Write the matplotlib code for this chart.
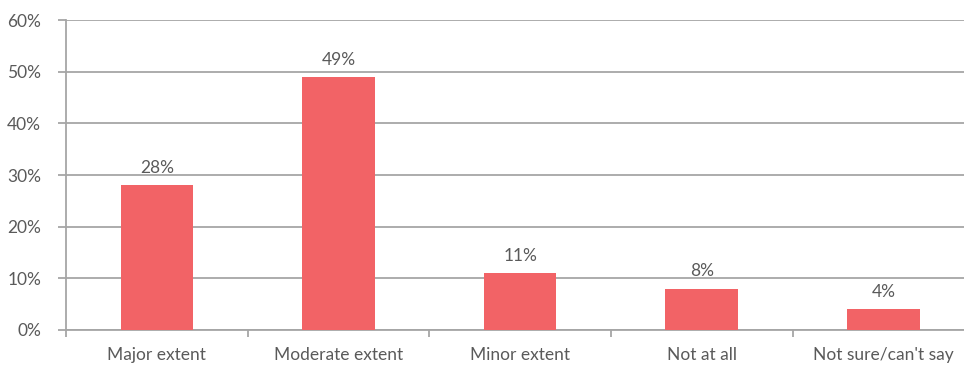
import matplotlib.pyplot as plt
import numpy as np

categories = ["Major extent", "Moderate extent", "Minor extent", "Not at all", "Not sure/can't say"]
values = [28, 49, 11, 8, 4]
yticks = [0, 10, 20, 30, 40, 50, 60]

bar_color = "#F26366"
grid_color = "#A6A6A6"
text_color = "#5A5A5A"

plt.rcParams['font.family'] = ['Lato', 'DejaVu Sans']

fig = plt.figure(figsize=(9.64, 3.65), dpi=100)
ax = fig.add_axes([0.0685, 0.096, 0.942, 0.849])

x = np.arange(len(categories))
ax.bar(x, values, width=0.4, color=bar_color, zorder=3)

for xi, v in zip(x, values):
    ax.text(xi, v + 1.8, f"{v}%", ha="center", va="bottom",
            fontsize=12.5, color=text_color)

ax.set_xlim(-0.5, len(categories) - 0.5)
ax.set_ylim(0, 60)
ax.set_yticks(yticks)
ax.set_yticklabels([f"{t}%" for t in yticks], fontsize=12.5, color=text_color)
ax.set_xticks(x)
ax.set_xticklabels(categories, fontsize=12.5, color=text_color)

# category boundary ticks
ax.set_xticks(np.arange(-0.5, len(categories), 1), minor=True)
ax.tick_params(axis="x", which="major", length=0, pad=12)
ax.tick_params(axis="x", which="minor", length=5, width=1.3, color=grid_color, direction="out")
ax.tick_params(axis="y", length=6, width=1.3, color=grid_color, pad=12)

ax.yaxis.grid(True, color=grid_color, linewidth=1.3, zorder=0)
for s in ["top", "right"]:
    ax.spines[s].set_visible(False)
ax.spines["left"].set_color(grid_color)
ax.spines["left"].set_linewidth(1.3)
ax.spines["bottom"].set_color(grid_color)
ax.spines["bottom"].set_linewidth(1.3)

fig.savefig("out.png", dpi=100)
